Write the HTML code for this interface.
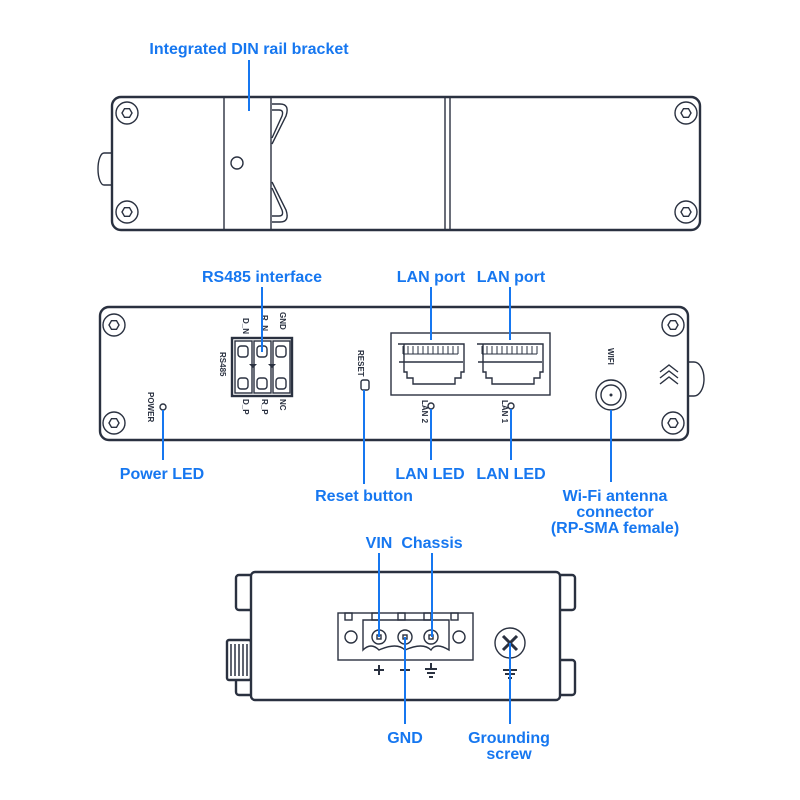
<!DOCTYPE html>
<html><head><meta charset="utf-8"><style>
html,body{margin:0;padding:0;background:#fff}
svg{display:block}
.l{font-family:"Liberation Sans",sans-serif;font-weight:bold;font-size:16px;fill:#1677f0;text-anchor:middle}
.s{font-family:"Liberation Sans",sans-serif;font-weight:bold;font-size:8px;fill:#2a3140}
.b{stroke:#1677f0;stroke-width:2;fill:none}
.d{stroke:#2a3140;stroke-width:1.4;fill:none}
.D{stroke:#2a3140;stroke-width:2.4;fill:#fff}
</style></head><body>
<svg width="800" height="800" viewBox="0 0 800 800" xmlns="http://www.w3.org/2000/svg">
<!-- TOP -->
<path class="d" d="M112 153 h-8 a6 16 0 0 0 0 32 h8" fill="#fff"/>
<rect class="D" x="112" y="97" width="588" height="133" rx="9"/>
<line class="d" x1="224" y1="98" x2="224" y2="229"/>
<line class="d" x1="271" y1="98" x2="271" y2="229"/>
<line class="d" x1="445" y1="98" x2="445" y2="229"/>
<line class="d" x1="450" y1="98" x2="450" y2="229"/>
<circle class="d" cx="237" cy="163" r="6"/>
<path class="d" d="M272 104 h8 q10 0 6 12 l-14 28 M272 110 h7 q5 0 3 6 l-10 22"/>
<path class="d" d="M272 222 h8 q10 0 6 -12 l-14 -28 M272 216 h7 q5 0 3 -6 l-10 -22"/>
<g class="d">
<circle cx="127" cy="113" r="11"/><polygon points="122,113 124.5,108.7 129.5,108.7 132,113 129.5,117.3 124.5,117.3"/>
<circle cx="127" cy="212" r="11"/><polygon points="122,212 124.5,207.7 129.5,207.7 132,212 129.5,216.3 124.5,216.3"/>
<circle cx="686" cy="113" r="11"/><polygon points="681,113 683.5,108.7 688.5,108.7 691,113 688.5,117.3 683.5,117.3"/>
<circle cx="686" cy="212" r="11"/><polygon points="681,212 683.5,207.7 688.5,207.7 691,212 688.5,216.3 683.5,216.3"/>
</g>
<line class="b" x1="249" y1="60" x2="249" y2="111"/>
<text class="l" x="249" y="54">Integrated DIN rail bracket</text>

<!-- MIDDLE -->
<path class="d" d="M688 362 h6 a10 17 0 0 1 0 34 h-6" fill="#fff"/>
<rect class="D" x="100" y="307" width="588" height="133" rx="9"/>
<g class="d">
<circle cx="114" cy="325" r="11"/><polygon points="109,325 111.5,320.7 116.5,320.7 119,325 116.5,329.3 111.5,329.3"/>
<circle cx="114" cy="423" r="11"/><polygon points="109,423 111.5,418.7 116.5,418.7 119,423 116.5,427.3 111.5,427.3"/>
<circle cx="673" cy="325" r="11"/><polygon points="668,325 670.5,320.7 675.5,320.7 678,325 675.5,329.3 670.5,329.3"/>
<circle cx="673" cy="423" r="11"/><polygon points="668,423 670.5,418.7 675.5,418.7 678,423 675.5,427.3 670.5,427.3"/>
</g>
<!-- RS485 -->
<rect x="232" y="338" width="60" height="58" fill="none" stroke="#2a3140" stroke-width="2.4"/>
<g class="d">
<rect x="235" y="341" width="17" height="52"/><rect x="254" y="341" width="17" height="52"/><rect x="273" y="341" width="17" height="52"/>
<rect x="238" y="346" width="10" height="11" rx="3"/><rect x="257" y="346" width="10" height="11" rx="3"/><rect x="276" y="346" width="10" height="11" rx="3"/>
<rect x="238" y="378" width="10" height="11" rx="3"/><rect x="257" y="378" width="10" height="11" rx="3"/><rect x="276" y="378" width="10" height="11" rx="3"/>
</g>
<path d="M249 364 l4 4 l4 -4z M268 364 l4 4 l4 -4z" fill="#2a3140"/>
<g class="s">
<text transform="translate(243,318) rotate(90)">D_N</text>
<text transform="translate(262,315) rotate(90)">R_N</text>
<text transform="translate(280,312) rotate(90)">GND</text>
<text transform="translate(243,399) rotate(90)">D_P</text>
<text transform="translate(262,399) rotate(90)">R_P</text>
<text transform="translate(280,399) rotate(90)">NC</text>
<text transform="translate(220,352) rotate(90)">RS485</text>
<text transform="translate(148,392) rotate(90)">POWER</text>
<text transform="translate(358,350) rotate(90)">RESET</text>
<text transform="translate(422,400) rotate(90)">LAN 2</text>
<text transform="translate(502,400) rotate(90)">LAN 1</text>
<text transform="translate(608,348) rotate(90)">WIFI</text>
</g>
<circle class="d" cx="163" cy="407" r="3"/>
<rect class="d" x="361" y="380" width="8" height="10" rx="2"/>
<!-- LAN -->
<rect class="d" x="391" y="333" width="159" height="62"/>
<g class="d">
<path d="M398 344 h66 v28 h-3 v6 h-6 v6 h-42 v-6 h-6 v-6 h-3 v-28z M399 362 h64"/>
<path d="M477 344 h66 v28 h-3 v6 h-6 v6 h-42 v-6 h-6 v-6 h-3 v-28z M478 362 h64"/>
</g>
<g fill="none" stroke="#2a3140" stroke-width="1">
<path d="M403 346 v8 M408 346 v8 M413 346 v8 M418 346 v8 M423 346 v8 M428 346 v8 M433 346 v8 M438 346 v8 M443 346 v8 M448 346 v8 M453 346 v8 M458 346 v8 M403 354 h55"/>
<path d="M482 346 v8 M487 346 v8 M492 346 v8 M497 346 v8 M502 346 v8 M507 346 v8 M512 346 v8 M517 346 v8 M522 346 v8 M527 346 v8 M532 346 v8 M537 346 v8 M482 354 h55"/>
</g>
<circle class="d" cx="431" cy="406" r="3"/>
<circle class="d" cx="511" cy="406" r="3"/>
<circle class="d" cx="611" cy="395" r="15"/><circle class="d" cx="611" cy="395" r="10"/><circle cx="611" cy="395" r="1.5" fill="#2a3140"/>
<path class="d" stroke-width="1.8" d="M660 372 l9 -7 l9 7 M660 378 l9 -7 l9 7 M660 384 l9 -7 l9 7"/>
<line class="b" x1="262" y1="287" x2="262" y2="352"/>
<line class="b" x1="431" y1="287" x2="431" y2="340"/>
<line class="b" x1="510" y1="287" x2="510" y2="340"/>
<line class="b" x1="163" y1="410" x2="163" y2="460"/>
<line class="b" x1="364" y1="390" x2="364" y2="484"/>
<line class="b" x1="431" y1="409" x2="431" y2="460"/>
<line class="b" x1="511" y1="409" x2="511" y2="460"/>
<line class="b" x1="611" y1="410" x2="611" y2="482"/>
<text class="l" x="262" y="282">RS485 interface</text>
<text class="l" x="431" y="282">LAN port</text>
<text class="l" x="511" y="282">LAN port</text>
<text class="l" x="162" y="479">Power LED</text>
<text class="l" x="364" y="501">Reset button</text>
<text class="l" x="430" y="479">LAN LED</text>
<text class="l" x="511" y="479">LAN LED</text>
<text class="l" x="615" y="501">Wi-Fi antenna</text>
<text class="l" x="615" y="517">connector</text>
<text class="l" x="615" y="533">(RP-SMA female)</text>

<!-- BOTTOM -->
<g class="D" stroke-width="2">
<rect x="236" y="575" width="18" height="35" rx="3"/><rect x="236" y="660" width="18" height="35" rx="3"/>
<rect x="557" y="575" width="18" height="35" rx="3"/><rect x="557" y="660" width="18" height="35" rx="3"/>
<rect x="227" y="640" width="24" height="40" rx="2"/>
</g>
<path d="M231 644 v32 M235 644 v32 M239 644 v32 M243 644 v32 M247 644 v32" stroke="#2a3140" stroke-width="1.5"/>
<rect class="D" x="251" y="572" width="309" height="128" rx="4"/>
<g class="d">
<rect x="338" y="613" width="135" height="47"/>
<path d="M363 620 h86 v30 q-13 -8 -18 0 q-8 -8 -26 0 q-8 -8 -26 0 q-8 -8 -16 0z"/>
<rect x="345" y="613" width="7" height="7"/><rect x="372" y="613" width="7" height="7"/><rect x="398" y="613" width="7" height="7"/><rect x="424" y="613" width="7" height="7"/><rect x="451" y="613" width="7" height="7"/>
<circle cx="351" cy="637" r="6"/><circle cx="459" cy="637" r="6"/>
<circle cx="379" cy="637" r="7"/><circle cx="405" cy="637" r="7"/><circle cx="431" cy="637" r="7"/>
<rect x="377" y="635" width="4" height="4"/><rect x="403" y="635" width="4" height="4"/><rect x="429" y="635" width="4" height="4"/>
<circle cx="510" cy="643" r="15"/>
<path d="M503 636 l14 14 M517 636 l-14 14" stroke-width="3"/>
</g>
<g stroke="#2a3140" stroke-width="2" fill="none">
<path d="M374 670 h10 M379 665 v10"/>
<path d="M400 670 h10"/>
<path d="M431 663 v6 M425 669 h12 M427 673 h8 M429 677 h4"/>
<path d="M510 664 v6 M503 670 h14 M505 674 h10 M508 678 h4"/>
</g>
<line class="b" x1="379" y1="553" x2="379" y2="637"/>
<line class="b" x1="432" y1="553" x2="432" y2="637"/>
<line class="b" x1="405" y1="637" x2="405" y2="724"/>
<line class="b" x1="510" y1="643" x2="510" y2="724"/>
<text class="l" x="379" y="548">VIN</text>
<text class="l" x="432" y="548">Chassis</text>
<text class="l" x="405" y="743">GND</text>
<text class="l" x="509" y="743">Grounding</text>
<text class="l" x="509" y="759">screw</text>
</svg>
</body></html>
